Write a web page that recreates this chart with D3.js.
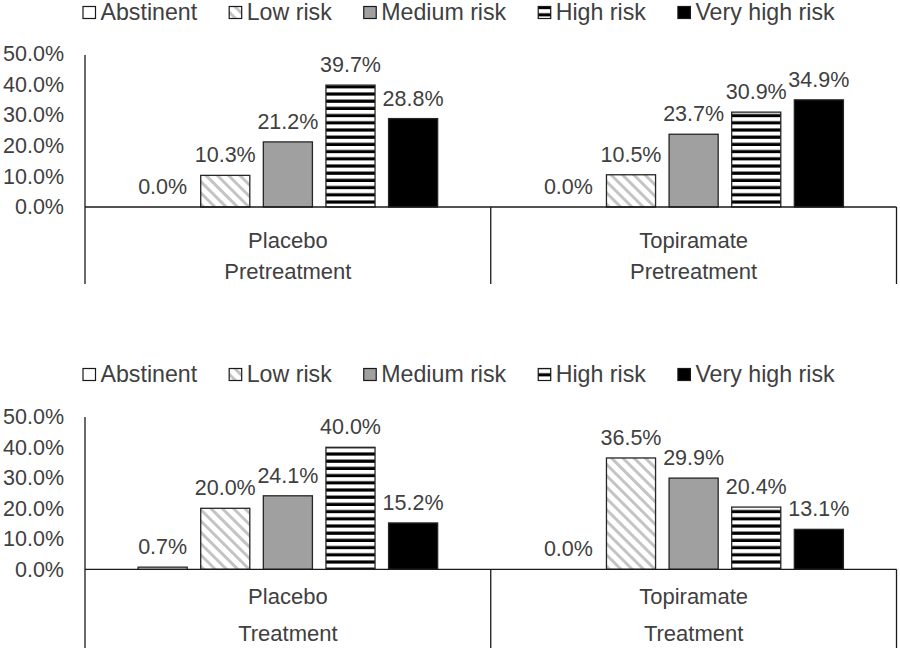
<!DOCTYPE html>
<html>
<head>
<meta charset="utf-8">
<script src="https://cdn.jsdelivr.net/npm/d3@7"></script>
<style>
  html, body { margin: 0; padding: 0; background: #ffffff; }
  svg { display: block; }
  text { font-family: "Liberation Sans", Arial, sans-serif; fill: #404040; }
</style>
</head>
<body>
<svg id="chart" width="900" height="651"></svg>
<script>
// ---- data ----
const categories = ["Placebo", "Topiramate"];
const series = ["Abstinent", "Low risk", "Medium risk", "High risk", "Very high risk"];
const phases = ["Pretreatment", "Treatment"];
const pretreatmentPlacebo = [0.0, 10.3, 21.2, 39.7, 28.8];
const pretreatmentTopiramate = [0.0, 10.5, 23.7, 30.9, 34.9];
const treatmentPlacebo = [0.7, 20.0, 24.1, 40.0, 15.2];
const treatmentTopiramate = [0.0, 36.5, 29.9, 20.4, 13.1];
const yTicks = [0, 10, 20, 30, 40, 50];

const svg = d3.select("#chart");
const defs = svg.append("defs");

// patterns
const pLow = defs.append("pattern").attr("id", "pLow")
  .attr("patternUnits", "userSpaceOnUse").attr("width", 8).attr("height", 8)
  .attr("patternTransform", "rotate(-45)");
pLow.append("rect").attr("width", 8).attr("height", 8).attr("fill", "#ffffff");
pLow.append("rect").attr("x", 0).attr("width", 3).attr("height", 8).attr("fill", "#c4c4c4");

const pHigh = defs.append("pattern").attr("id", "pHigh")
  .attr("patternUnits", "userSpaceOnUse").attr("width", 10).attr("height", 7.2)
  .attr("y", 2);
pHigh.append("rect").attr("width", 10).attr("height", 7.2).attr("fill", "#ffffff");
pHigh.append("rect").attr("y", 4).attr("width", 10).attr("height", 3.3).attr("fill", "#000000");

const fills = ["#ffffff", "url(#pLow)", "#a0a0a0", "url(#pHigh)", "#000000"];
const fmtPct = v => d3.format(".1f")(v) + "%";

const xLeft = 85, xRight = 896.5;

function drawPanel(cfg) {
  const g = svg.append("g");
  const y = d3.scaleLinear().domain([0, 50]).range([cfg.zeroY, cfg.topY]);
  const x0 = d3.scaleBand().domain(categories).range([xLeft, xRight]).paddingInner(0).paddingOuter(0);
  const x1 = d3.scaleBand().domain(series).range([0, x0.bandwidth()]).paddingInner(0.216).paddingOuter(0.848);

  // legend
  const leg = g.append("g");
  let lx = 83;
  series.forEach((s, i) => {
    leg.append("rect").attr("x", lx).attr("y", cfg.legendY - 13.5).attr("width", 12.5).attr("height", 12)
      .attr("fill", fills[i]).attr("stroke", "#1a1a1a").attr("stroke-width", 1.2);
    const t = leg.append("text").attr("x", lx + 17.5).attr("y", cfg.legendY)
      .attr("font-size", 23.2).text(s);
    lx = lx + 17.5 + t.node().getComputedTextLength() + 32;
  });

  // y axis ticks
  const yAxis = d3.axisLeft(y).tickValues(yTicks).tickSize(0).tickPadding(21).tickFormat(fmtPct);
  const ya = g.append("g").attr("transform", `translate(${xLeft},0)`).call(yAxis);
  ya.select(".domain").remove();
  ya.selectAll("text").attr("font-size", 21.5).attr("fill", "#404040")
    .attr("font-family", "'Liberation Sans', Arial, sans-serif");

  // bars
  const data = cfg.values;
  categories.forEach((c, ci) => {
    const vals = data[ci];
    const grp = g.append("g").attr("transform", `translate(${x0(c)},0)`);
    grp.selectAll("rect.bar").data(vals).join("rect").attr("class", "bar")
      .attr("x", (d, i) => x1(series[i]))
      .attr("y", d => y(d))
      .attr("width", x1.bandwidth())
      .attr("height", d => y(0) - y(d))
      .attr("fill", (d, i) => fills[i])
      .attr("stroke", "#262626").attr("stroke-width", 1.3);
    grp.selectAll("text.lbl").data(vals).join("text").attr("class", "lbl")
      .attr("x", (d, i) => x1(series[i]) + x1.bandwidth() / 2)
      .attr("y", d => y(d) - 13)
      .attr("text-anchor", "middle").attr("font-size", 21.5)
      .text(d => fmtPct(d));
    // category labels
    g.append("text").attr("x", x0(c) + x0.bandwidth() / 2).attr("y", cfg.catY)
      .attr("text-anchor", "middle").attr("font-size", 22).text(c);
    g.append("text").attr("x", x0(c) + x0.bandwidth() / 2).attr("y", cfg.phaseY)
      .attr("text-anchor", "middle").attr("font-size", 22).text(cfg.phase);
  });

  // axis lines
  const lineColor = "#1a1a1a";
  g.append("line").attr("x1", xLeft).attr("x2", xLeft).attr("y1", cfg.axisTop).attr("y2", cfg.axisBottom)
    .attr("stroke", lineColor).attr("stroke-width", 1.3);
  g.append("line").attr("x1", xLeft).attr("x2", xRight).attr("y1", y(0)).attr("y2", y(0))
    .attr("stroke", lineColor).attr("stroke-width", 1.3);
  const mid = x0(categories[1]);
  g.append("line").attr("x1", mid).attr("x2", mid).attr("y1", y(0)).attr("y2", cfg.axisBottom)
    .attr("stroke", lineColor).attr("stroke-width", 1.3);
  g.append("line").attr("x1", xRight).attr("x2", xRight).attr("y1", y(0)).attr("y2", cfg.axisBottom)
    .attr("stroke", lineColor).attr("stroke-width", 1.3);
}

drawPanel({
  values: [pretreatmentPlacebo, pretreatmentTopiramate],
  phase: phases[0],
  zeroY: 207, topY: 53.5, axisTop: 55, axisBottom: 284,
  legendY: 20, catY: 247.5, phaseY: 278.5
});
drawPanel({
  values: [treatmentPlacebo, treatmentTopiramate],
  phase: phases[1],
  zeroY: 569.3, topY: 416.8, axisTop: 417, axisBottom: 648,
  legendY: 382, catY: 604, phaseY: 641
});
</script>
</body>
</html>
